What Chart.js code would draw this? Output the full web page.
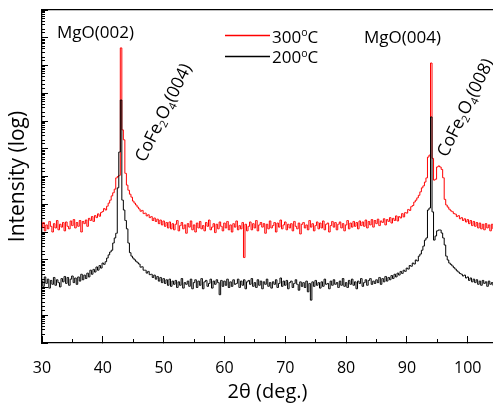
<!DOCTYPE html>
<html>
<head>
<meta charset="utf-8">
<script src="https://cdn.jsdelivr.net/npm/chart.js@4.4.0/dist/chart.umd.min.js"></script>
<style>
html,body{margin:0;padding:0;background:#fff;}
canvas{display:block;}
</style>
</head>
<body>
<canvas id="c" width="493" height="407"></canvas>
<script>
// ---------------- DATA ----------------
// 2-theta sampling: start angle and step (degrees)
const angleStart = 30;
const angleStep = 0.25;

// Intensity (log scale, arbitrary units) for the 300 °C film, one row per degree (4 samples)
const intensity300 = [
/*30*/ 1.5e4, 2.2e4, 1.1e4, 1.8e4,
/*31*/ 1.3e4, 2.4e4, 1.6e4, 1.0e4,
/*32*/ 2.0e4, 1.4e4, 2.6e4, 1.2e4,
/*33*/ 1.9e4, 1.5e4, 2.2e4, 1.1e4,
/*34*/ 2.3e4, 1.6e4, 1.3e4, 2.5e4,
/*35*/ 1.7e4, 2.8e4, 1.4e4, 2.2e4,
/*36*/ 1.6e4, 2.6e4, 1.0e4, 2.4e4,
/*37*/ 2.0e4, 2.7e4, 1.6e4, 3.1e4,
/*38*/ 2.6e4, 3.6e4, 2.4e4, 3.9e4,
/*39*/ 3.3e4, 4.5e4, 3.7e4, 5.0e4,
/*40*/ 5.5e4, 7.0e4, 6.2e4, 8.5e4,
/*41*/ 1.1e5, 1.4e5, 2.0e5, 2.6e5,
/*42*/ 3.5e5, 8.9e5, 1.0e6, 1.1e6,
/*43*/ 4.3e10, 4.8e7, 2.1e7, 1.3e6,
/*44*/ 4.9e5, 3.2e5, 2.3e5, 1.8e5,
/*45*/ 1.3e5, 1.1e5, 9.4e4, 7.9e4,
/*46*/ 6.8e4, 5.6e4, 6.0e4, 4.6e4,
/*47*/ 4.8e4, 3.8e4, 4.2e4, 3.3e4,
/*48*/ 3.6e4, 2.6e4, 3.2e4, 2.4e4,
/*49*/ 2.9e4, 2.0e4, 2.7e4, 1.8e4,
/*50*/ 2.5e4, 1.6e4, 2.2e4, 1.4e4,
/*51*/ 2.3e4, 1.3e4, 2.0e4, 1.2e4,
/*52*/ 1.9e4, 2.6e4, 1.1e4, 1.7e4,
/*53*/ 2.2e4, 1.3e4, 1.8e4, 9.0e3,
/*54*/ 2.0e4, 1.5e4, 2.5e4, 1.2e4,
/*55*/ 1.8e4, 1.0e4, 2.1e4, 1.4e4,
/*56*/ 2.4e4, 1.3e4, 1.7e4, 1.1e4,
/*57*/ 2.2e4, 1.6e4, 2.7e4, 1.2e4,
/*58*/ 1.5e4, 2.0e4, 9.5e3, 1.9e4,
/*59*/ 1.3e4, 2.3e4, 1.6e4, 1.1e4,
/*60*/ 2.1e4, 1.4e4, 2.4e4, 1.2e4,
/*61*/ 1.8e4, 1.0e4, 2.0e4, 1.5e4,
/*62*/ 2.5e4, 1.2e4, 1.7e4, 1.3e4,
/*63*/ 2.2e4, 1.2e3, 1.9e4, 1.1e4,
/*64*/ 1.6e4, 2.3e4, 1.2e4, 2.0e4,
/*65*/ 1.4e4, 2.6e4, 1.1e4, 1.8e4,
/*66*/ 2.2e4, 1.5e4, 2.0e4, 9.0e3,
/*67*/ 1.9e4, 1.3e4, 2.5e4, 1.4e4,
/*68*/ 1.7e4, 2.2e4, 1.0e4, 2.1e4,
/*69*/ 1.5e4, 2.7e4, 1.3e4, 1.8e4,
/*70*/ 2.3e4, 1.2e4, 1.9e4, 1.4e4,
/*71*/ 2.0e4, 1.1e4, 2.4e4, 1.6e4,
/*72*/ 1.3e4, 2.1e4, 8.5e3, 1.9e4,
/*73*/ 2.2e4, 1.4e4, 1.8e4, 1.2e4,
/*74*/ 2.6e4, 1.5e4, 2.0e4, 1.1e4,
/*75*/ 1.7e4, 2.3e4, 1.3e4, 2.1e4,
/*76*/ 1.4e4, 2.5e4, 1.2e4, 1.9e4,
/*77*/ 2.1e4, 1.0e4, 1.7e4, 2.4e4,
/*78*/ 1.5e4, 2.2e4, 1.2e4, 1.9e4,
/*79*/ 2.3e4, 1.4e4, 2.0e4, 1.1e4,
/*80*/ 1.8e4, 2.6e4, 1.3e4, 2.1e4,
/*81*/ 1.5e4, 2.4e4, 1.6e4, 2.2e4,
/*82*/ 1.3e4, 2.5e4, 1.7e4, 2.3e4,
/*83*/ 1.6e4, 2.7e4, 1.4e4, 2.4e4,
/*84*/ 1.8e4, 2.8e4, 1.5e4, 2.6e4,
/*85*/ 2.0e4, 2.9e4, 1.7e4, 2.5e4,
/*86*/ 2.2e4, 3.0e4, 1.8e4, 2.8e4,
/*87*/ 2.4e4, 3.3e4, 2.1e4, 3.1e4,
/*88*/ 2.6e4, 3.8e4, 2.5e4, 3.6e4,
/*89*/ 3.2e4, 4.6e4, 3.5e4, 5.0e4,
/*90*/ 4.8e4, 6.5e4, 6.0e4, 8.2e4,
/*91*/ 9.0e4, 1.2e5, 1.4e5, 1.7e5,
/*92*/ 2.1e5, 2.8e5, 3.9e5, 4.6e5,
/*93*/ 6.3e5, 8.9e5, 5.0e6, 5.9e6,
/*94*/ 1.23e10, 4.5e6, 7.4e5, 8.0e5,
/*95*/ 2.2e6, 2.4e6, 2.2e6, 1.8e6,
/*96*/ 9.0e5, 1.5e5, 9.4e4, 7.9e4,
/*97*/ 6.6e4, 5.8e4, 5.4e4, 4.6e4,
/*98*/ 4.4e4, 3.6e4, 3.9e4, 3.0e4,
/*99*/ 3.3e4, 2.6e4, 3.0e4, 2.3e4,
/*100*/ 2.8e4, 2.0e4, 2.6e4, 1.7e4,
/*101*/ 2.4e4, 1.6e4, 2.2e4, 1.4e4,
/*102*/ 2.1e4, 1.3e4, 1.9e4, 1.2e4,
/*103*/ 2.0e4, 1.4e4, 1.8e4, 1.1e4,
/*104*/ 1.9e4, 1.3e4
];

// Intensity for the 200 °C film
const intensity200 = [
/*30*/ 170, 110, 240, 140,
/*31*/ 200, 95, 180, 130,
/*32*/ 230, 120, 190, 150,
/*33*/ 105, 210, 160, 250,
/*34*/ 140, 230, 120, 200,
/*35*/ 260, 150, 220, 130,
/*36*/ 240, 170, 300, 190,
/*37*/ 280, 210, 330, 240,
/*38*/ 420, 300, 450, 360,
/*39*/ 550, 420, 620, 500,
/*40*/ 760, 680, 850, 1150,
/*41*/ 1500, 1900, 2200, 4000,
/*42*/ 6100, 9000, 3.9e5, 7.6e6,
/*43*/ 5.7e8, 1.41e5, 6.2e4, 2.6e4,
/*44*/ 1.3e4, 4000, 1800, 1350,
/*45*/ 1150, 1000, 880, 780,
/*46*/ 700, 540, 560, 420,
/*47*/ 420, 330, 380, 290,
/*48*/ 300, 230, 280, 200,
/*49*/ 250, 170, 230, 150,
/*50*/ 210, 140, 190, 120,
/*51*/ 200, 110, 170, 130,
/*52*/ 180, 100, 160, 120,
/*53*/ 210, 95, 150, 130,
/*54*/ 170, 110, 200, 90,
/*55*/ 150, 190, 100, 170,
/*56*/ 120, 210, 90, 160,
/*57*/ 180, 110, 140, 200,
/*58*/ 95, 170, 130, 190,
/*59*/ 150, 55, 180, 110,
/*60*/ 170, 120, 200, 100,
/*61*/ 160, 110, 190, 130,
/*62*/ 140, 200, 100, 170,
/*63*/ 120, 190, 90, 160,
/*64*/ 180, 130, 210, 110,
/*65*/ 150, 100, 190, 120,
/*66*/ 170, 90, 160, 130,
/*67*/ 200, 110, 150, 95,
/*68*/ 160, 130, 190, 100,
/*69*/ 140, 220, 110, 170,
/*70*/ 120, 180, 90, 150,
/*71*/ 170, 100, 140, 190,
/*72*/ 130, 80, 160, 110,
/*73*/ 150, 100, 170, 70,
/*74*/ 140, 35, 160, 110,
/*75*/ 180, 120, 150, 95,
/*76*/ 160, 110, 200, 130,
/*77*/ 140, 90, 170, 120,
/*78*/ 190, 130, 150, 100,
/*79*/ 170, 120, 210, 110,
/*80*/ 150, 100, 180, 130,
/*81*/ 200, 120, 160, 90,
/*82*/ 170, 140, 210, 110,
/*83*/ 150, 190, 120, 180,
/*84*/ 210, 130, 170, 140,
/*85*/ 190, 150, 230, 130,
/*86*/ 210, 160, 250, 170,
/*87*/ 230, 190, 270, 210,
/*88*/ 300, 240, 330, 280,
/*89*/ 380, 320, 420, 380,
/*90*/ 500, 460, 620, 580,
/*91*/ 760, 700, 980, 900,
/*92*/ 1350, 1600, 2200, 3100,
/*93*/ 5100, 6100, 6.2e4, 7.3e4,
/*94*/ 1.4e8, 5.3e4, 5100, 7200,
/*95*/ 1.1e4, 1.18e4, 1.18e4, 9200,
/*96*/ 6100, 3400, 1350, 980,
/*97*/ 760, 680, 600, 520,
/*98*/ 460, 400, 360, 320,
/*99*/ 300, 260, 280, 220,
/*100*/ 240, 180, 220, 160,
/*101*/ 200, 150, 190, 130,
/*102*/ 170, 120, 180, 140,
/*103*/ 160, 110, 170, 130,
/*104*/ 150, 120
];

const seriesNames = ['300', '200'];
const xMajorTicks = [30, 40, 50, 60, 70, 80, 90, 100];
const xMinorTicks = [35, 45, 55, 65, 75, 85, 95];
const xAxisTitle = '2θ (deg.)';
const yAxisTitle = 'Intensity (log)';
const mgoLabels = ['MgO(002)', 'MgO(004)'];
const ferriteLabels = ['(004)', '(008)'];

// ---------------- CHART ----------------
const angles = intensity300.map((_, i) => angleStart + i * angleStep);
const toPoints = arr => arr.map((v, i) => ({x: angles[i], y: v}));

const FONT = '"Open Sans", "Liberation Sans", sans-serif';
const X_MIN = 30, X_MAX = 104.15;
const RED = '#ff0000', BLACK = '#000000';

function richText(ctx, x, y, angleDeg, parts, size) {
  ctx.save();
  ctx.translate(x, y);
  ctx.rotate(angleDeg * Math.PI / 180);
  ctx.textBaseline = 'alphabetic';
  ctx.textAlign = 'left';
  ctx.fillStyle = '#000';
  let cx = 0;
  for (const p of parts) {
    const small = p.sub || p.sup;
    const s = small ? size * 0.62 : size;
    ctx.font = s + 'px ' + FONT;
    const dy = p.sub ? size * 0.2 : (p.sup ? -size * 0.36 : 0);
    ctx.fillText(p.t, cx, dy);
    cx += ctx.measureText(p.t).width;
  }
  ctx.restore();
}

const annotate = {
  id: 'annotate',
  afterDraw(chart) {
    const ctx = chart.ctx;
    // peak labels
    richText(ctx, 57, 37.5, 0, [{t: mgoLabels[0]}], 17);
    richText(ctx, 364, 42.5, 0, [{t: mgoLabels[1]}], 17);
    const ferrite = lab => [{t: 'CoFe'}, {t: '2', sub: true}, {t: 'O'}, {t: '4', sub: true}, {t: lab}];
    richText(ctx, 145, 163, -64, ferrite(ferriteLabels[0]), 17.5);
    richText(ctx, 447, 158, -64, ferrite(ferriteLabels[1]), 17.5);
    // legend
    const rows = [
      {y: 35.5, ty: 42.5, color: RED, label: seriesNames[0]},
      {y: 56.5, ty: 63.3, color: BLACK, label: seriesNames[1]}
    ];
    for (const r of rows) {
      ctx.save();
      ctx.strokeStyle = r.color;
      ctx.lineWidth = 1.5;
      ctx.beginPath();
      ctx.moveTo(225, r.y);
      ctx.lineTo(270, r.y);
      ctx.stroke();
      ctx.restore();
      richText(ctx, 272, r.ty, 0, [{t: r.label}, {t: 'o', sup: true}, {t: 'C'}], 17);
    }
  }
};

const noPad = s => { s.paddingLeft = 0; s.paddingRight = 0; s.paddingTop = 0; s.paddingBottom = 0; };

new Chart(document.getElementById('c'), {
  type: 'line',
  data: {
    datasets: [
      {label: seriesNames[0], data: toPoints(intensity300), borderColor: RED, borderWidth: 1, order: 1},
      {label: seriesNames[1], data: toPoints(intensity200), borderColor: BLACK, borderWidth: 1, order: 0}
    ]
  },
  options: {
    responsive: false,
    animation: false,
    devicePixelRatio: 1,
    layout: {padding: {top: 10, left: 0, right: 0, bottom: 0}},
    elements: {
      point: {radius: 0, hoverRadius: 0},
      line: {stepped: 'middle', tension: 0, fill: false}
    },
    plugins: {legend: {display: false}, tooltip: {enabled: false}, title: {display: false}},
    scales: {
      x: {
        type: 'linear', position: 'bottom', min: X_MIN, max: X_MAX, weight: 1, display: true,
        afterBuildTicks: s => { s.ticks = xMajorTicks.map(v => ({value: v})); },
        ticks: {font: {family: FONT, size: 16}, color: '#000', padding: 23, maxRotation: 0, autoSkip: false},
        grid: {display: true, drawOnChartArea: false, drawTicks: true, tickLength: -7, color: '#000', lineWidth: 1},
        border: {display: true, color: '#000', width: 1.3},
        title: {display: true, text: xAxisTitle, font: {family: FONT, size: 20}, color: '#000', padding: {top: 0, bottom: 3}},
        afterFit: s => { s.height = 64; noPad(s); }
      },
      xMinor: {
        type: 'linear', position: 'bottom', min: X_MIN, max: X_MAX, weight: 0, display: true,
        afterBuildTicks: s => { s.ticks = xMinorTicks.map(v => ({value: v})); },
        ticks: {display: false},
        grid: {display: true, drawOnChartArea: false, drawTicks: true, tickLength: -4, color: '#000', lineWidth: 1},
        border: {display: false},
        afterFit: s => { s.height = 0; noPad(s); }
      },
      xTop: {
        type: 'linear', position: 'top', min: X_MIN, max: X_MAX, display: true,
        ticks: {display: false},
        grid: {display: false},
        border: {display: true, color: '#000', width: 1.3},
        afterFit: s => { s.height = 0; noPad(s); }
      },
      y: {
        type: 'logarithmic', position: 'left', min: 1, max: 1e12, weight: 1, display: true,
        ticks: {display: false, autoSkip: false},
        grid: {display: true, drawOnChartArea: false, drawTicks: true, tickLength: -3, color: '#000', lineWidth: 1},
        border: {display: true, color: '#000', width: 1.3},
        title: {display: true, text: yAxisTitle, font: {family: FONT, size: 21}, color: '#000', padding: {top: 5, bottom: 0}},
        afterFit: s => { s.width = 42; noPad(s); }
      },
      yMajor: {
        type: 'logarithmic', position: 'left', min: 1, max: 1e12, weight: 0, display: true,
        ticks: {display: false, autoSkip: false},
        afterBuildTicks: s => {
          s.ticks = s.ticks.filter(t => Math.abs(Math.log10(t.value) - Math.round(Math.log10(t.value))) < 1e-9);
        },
        grid: {display: true, drawOnChartArea: false, drawTicks: true, tickLength: -6, color: '#000', lineWidth: 1},
        border: {display: false},
        afterFit: s => { s.width = 0; noPad(s); }
      }
    }
  },
  plugins: [annotate]
});
</script>
</body>
</html>
